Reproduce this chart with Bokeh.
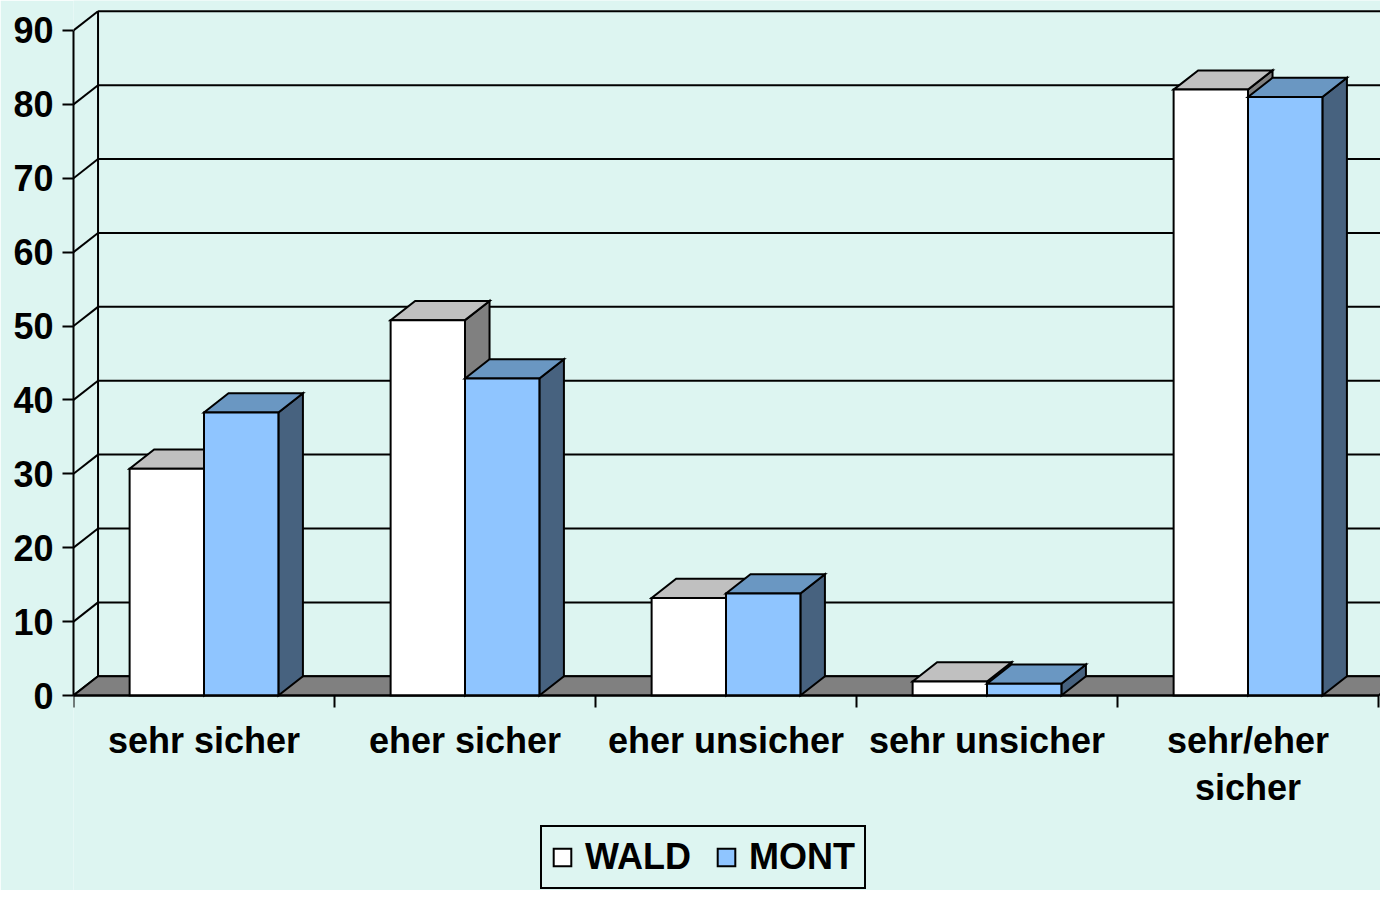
from bokeh.plotting import figure
from bokeh.models import (Range1d, FixedTicker, Legend, LegendItem, ColumnDataSource)
from bokeh.embed import file_html
from bokeh.resources import INLINE

# ---------------- data ----------------
categories = ["sehr sicher", "eher sicher", "eher unsicher", "sehr unsicher", "sehr/eher\nsicher"]
wald = [30.7, 50.8, 13.2, 1.9, 82.0]
mont = [38.3, 42.9, 13.8, 1.6, 81.0]
y_ticks = [0, 10, 20, 30, 40, 50, 60, 70, 80, 90]
series_names = ["WALD", "MONT"]

# ---------------- style ----------------
BG = "#ddf5f1"
FONT = "Liberation Sans"
DX = 0.094      # depth offset in category units
DY = 2.6        # depth offset in value units
BAR_W = 0.285   # bar width in category units
N = len(categories)
YMAX = y_ticks[-1]

styles = {
    "WALD": dict(front="#ffffff", top="#c0c0c0", side="#808080", off=-1),
    "MONT": dict(front="#8fc5ff", top="#6a97c2", side="#47627f", off=0),
}

W, H = 1380, 890
LEFT = 73
PX_PER_UNIT = 7.389
ZERO_Y = 695
p = figure(width=W, height=H, output_backend="svg", toolbar_location=None,
           x_range=Range1d(0, (W - LEFT) / 261.0),
           y_range=Range1d(-(H - ZERO_Y) / PX_PER_UNIT, ZERO_Y / PX_PER_UNIT),
           min_border_left=LEFT, min_border_right=0, min_border_top=0, min_border_bottom=0)
p.background_fill_color = BG
p.border_fill_color = BG
p.outline_line_color = None
p.xgrid.visible = False
p.ygrid.visible = False

# back wall gridlines + side wall diagonals
p.segment(x0=[DX] * len(y_ticks), y0=[t + DY for t in y_ticks],
          x1=[N + 1] * len(y_ticks), y1=[t + DY for t in y_ticks],
          line_color="black", line_width=2)
p.segment(x0=[0] * len(y_ticks), y0=y_ticks,
          x1=[DX] * len(y_ticks), y1=[t + DY for t in y_ticks],
          line_color="black", line_width=2)
p.segment(x0=[DX], y0=[DY], x1=[DX], y1=[YMAX + DY], line_color="black", line_width=2)

# floor
p.patch(x=[0, N, N + DX, N + 1, N + 1, DX], y=[0, 0, DY, DY, DY, DY], fill_color="#808080",
        line_color="black", line_width=2, line_join="miter")

front_renderers = {}
for name, vals in zip(series_names, [wald, mont]):
    st = styles[name]
    lefts = [i + 0.5 + st["off"] * BAR_W for i in range(N)]
    rights = [l + BAR_W for l in lefts]
    side_xs = [[r, r + DX, r + DX, r] for r in rights]
    side_ys = [[0, DY, v + DY, v] for v in vals]
    top_xs = [[l, r, r + DX, l + DX] for l, r in zip(lefts, rights)]
    top_ys = [[v, v, v + DY, v + DY] for v in vals]
    p.patches(xs=side_xs, ys=side_ys, fill_color=st["side"], line_color="black",
              line_width=2, line_join="miter")
    p.patches(xs=top_xs, ys=top_ys, fill_color=st["top"], line_color="black",
              line_width=2, line_join="miter")
    src = ColumnDataSource(dict(left=lefts, right=rights, top=vals, bottom=[0] * N))
    front_renderers[name] = p.quad(left="left", right="right", top="top", bottom="bottom",
                                   source=src, fill_color=st["front"], line_color="black",
                                   line_width=2, line_join="miter")

# y axis
ya = p.yaxis[0]
ya.ticker = FixedTicker(ticks=y_ticks, minor_ticks=[])
ya.bounds = (0, YMAX)
ya.axis_line_color = "black"
ya.axis_line_width = 2
ya.major_tick_line_color = "black"
ya.major_tick_line_width = 2
ya.major_tick_in = 0
ya.major_tick_out = 11
ya.minor_tick_line_color = None
ya.major_label_standoff = 9
ya.major_label_text_font = FONT
ya.major_label_text_font_style = "bold"
ya.major_label_text_font_size = "36px"
ya.major_label_text_color = "black"

# x axis (drawn at value 0 inside the frame)
xa = p.xaxis[0]
xa.fixed_location = 0
centers = [i + 0.5 for i in range(N)]
xa.ticker = FixedTicker(ticks=centers, minor_ticks=list(range(N + 1)))
xa.major_label_overrides = {c: lab for c, lab in zip(centers, categories)}
xa.bounds = (0, N)
xa.axis_line_color = "black"
xa.axis_line_width = 2
xa.major_tick_line_color = None
xa.major_tick_in = 0
xa.major_tick_out = 12
xa.minor_tick_line_color = "black"
xa.minor_tick_line_width = 2
xa.minor_tick_in = 0
xa.minor_tick_out = 12
xa.major_label_standoff = 12
xa.major_label_text_font = FONT
xa.major_label_text_font_style = "bold"
xa.major_label_text_font_size = "36px"
xa.major_label_text_color = "black"
xa.major_label_text_line_height = 1.15

# legend
legend = Legend(items=[LegendItem(label=n, renderers=[front_renderers[n]]) for n in series_names],
                orientation="horizontal", location=(467, 1),
                label_text_font=FONT, label_text_font_style="bold", label_text_font_size="36px",
                label_text_color="black", glyph_width=22, glyph_height=22,
                label_standoff=12, spacing=24, padding=9, margin=0,
                border_line_color="black", border_line_width=2, border_line_alpha=1.0,
                background_fill_color=BG, background_fill_alpha=1.0)
p.add_layout(legend, "center")

open("out.html", "w").write(file_html(p, INLINE))
